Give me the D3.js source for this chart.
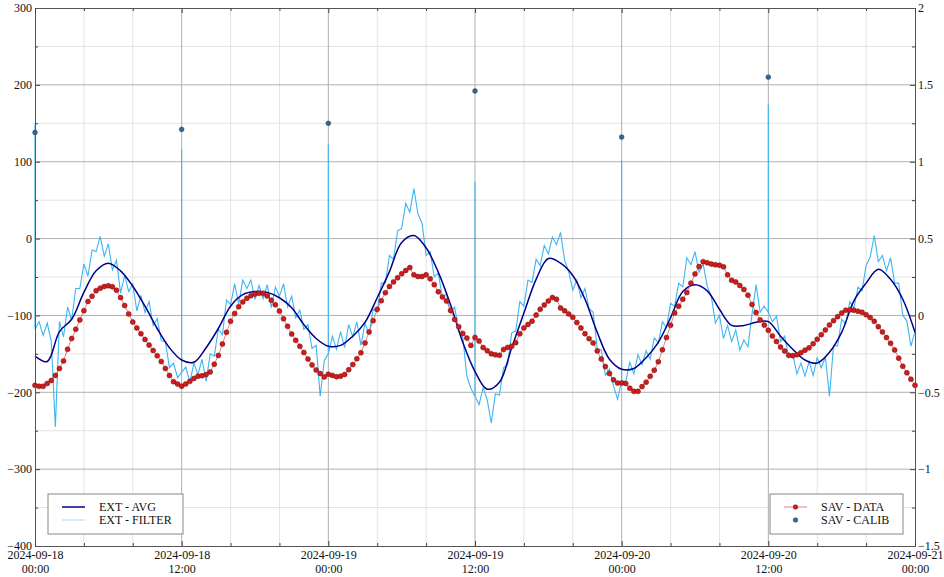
<!DOCTYPE html>
<html>
<head>
<meta charset="utf-8">
<script src="https://cdn.jsdelivr.net/npm/d3@7"></script>
<style>
  body { margin: 0; background: #fff; }
  text { font-family: "Liberation Serif", "DejaVu Serif", serif; }
</style>
</head>
<body>
<div id="chart"></div>
<script>
/* chart data */
const START = Date.UTC(2024, 8, 18, 0, 0);
const HOUR = 3600e3;
const STEP = 20 * 60e3;   // 20 min sampling for filter + sav data

// EXT - AVG, one value per hour
const extAvg = [
  -153, -160, -121, -105, -70, -42, -32, -42, -62, -88,
  -117, -142, -158, -161, -142, -117, -88, -73, -69, -70,
  -77, -90, -112, -130, -140, -139, -127, -109, -77, -43,
  -5, 4, -12, -44, -86, -135, -173, -196, -187, -142,
  -97, -53, -26, -32, -48, -79, -122, -157, -170, -169,
  -155, -135, -103, -69, -60, -68, -92, -113, -113, -109,
  -108, -127, -144, -158, -162, -148, -122, -81, -58, -40,
  -53, -79, -122
];

// EXT - FILTER, every 20 min
const extFilter = [
  -118, -108, -126, -110, -134, -245, -108, -128, -89, -106,
  -65, -65, -33, -49, -15, -17, 3, -23, -7, -41,
  -28, -71, -48, -69, -59, -94, -74, -96, -82, -113,
  -104, -133, -134, -168, -162, -181, -174, -167, -187, -162,
  -177, -157, -186, -150, -153, -118, -125, -80, -86, -59,
  -85, -54, -65, -54, -79, -61, -78, -60, -90, -63,
  -75, -59, -89, -75, -103, -93, -118, -112, -143, -139,
  -205, -159, -150, -127, -144, -121, -142, -112, -128, -108,
  -139, -110, -125, -92, -96, -58, -58, -22, -27, 10,
  13, 46, 34, 65, 32, 20, -22, -17, -50, -45,
  -77, -72, -97, -89, -120, -128, -179, -195, -205, -216,
  -194, -210, -240, -202, -204, -168, -164, -123, -120, -82,
  -88, -54, -57, -27, -35, -9, -20, 2, -8, 8,
  -28, -43, -67, -54, -77, -65, -91, -96, -143, -145,
  -178, -170, -192, -209, -185, -186, -161, -176, -151, -164,
  -146, -157, -129, -136, -108, -116, -84, -88, -58, -63,
  -25, -34, -17, -44, -33, -62, -75, -110, -100, -130,
  -113, -134, -119, -145, -132, -141, -98, -60, -96, -88,
  -96, -108, -101, -134, -127, -155, -150, -176, -162, -179,
  -160, -178, -155, -168, -154, -205, -139, -140, -105, -111,
  -82, -91, -63, -68, -35, -24, 4, -30, -22, -42,
  -25, -58, -58, -100, -107, -140, -121
];
// calibration spikes in the filter trace
const spikeHours = [0, 12, 24, 36, 48, 60];
const spikeValues = [150, 116, 122, 74, 102, 174];

// SAV - DATA (right axis), every 20 min
const savData = [
  -0.455, -0.461, -0.461, -0.443, -0.423, -0.390, -0.345, -0.296, -0.220, -0.150,
  -0.090, -0.029, 0.031, 0.091, 0.125, 0.161, 0.177, 0.188, 0.193, 0.186,
  0.164, 0.116, 0.064, 0.010, -0.043, -0.082, -0.119, -0.156, -0.193, -0.228,
  -0.262, -0.300, -0.345, -0.390, -0.431, -0.446, -0.460, -0.446, -0.429, -0.410,
  -0.395, -0.392, -0.385, -0.368, -0.318, -0.260, -0.186, -0.110, -0.038, 0.012,
  0.057, 0.088, 0.112, 0.128, 0.139, 0.145, 0.144, 0.127, 0.099, 0.070,
  0.028, -0.022, -0.071, -0.121, -0.162, -0.201, -0.241, -0.284, -0.322, -0.355,
  -0.378, -0.400, -0.383, -0.390, -0.399, -0.395, -0.384, -0.353, -0.320, -0.282,
  -0.243, -0.179, -0.107, -0.034, 0.040, 0.096, 0.148, 0.188, 0.218, 0.245,
  0.271, 0.292, 0.311, 0.264, 0.253, 0.253, 0.264, 0.238, 0.200, 0.154,
  0.120, 0.094, 0.032, -0.026, -0.073, -0.117, -0.147, -0.195, -0.143, -0.167,
  -0.209, -0.229, -0.250, -0.256, -0.259, -0.222, -0.208, -0.201, -0.177, -0.120,
  -0.081, -0.059, -0.038, 0.002, 0.041, 0.068, 0.094, 0.116, 0.105, 0.049,
  0.030, 0.010, -0.012, -0.046, -0.081, -0.119, -0.151, -0.179, -0.231, -0.284,
  -0.333, -0.378, -0.419, -0.440, -0.440, -0.443, -0.473, -0.494, -0.494, -0.463,
  -0.434, -0.396, -0.356, -0.302, -0.224, -0.144, -0.064, 0.016, 0.060, 0.105,
  0.149, 0.210, 0.270, 0.318, 0.350, 0.342, 0.334, 0.329, 0.327, 0.316,
  0.264, 0.229, 0.218, 0.195, 0.169, 0.132, 0.071, 0.019, -0.029, -0.063,
  -0.097, -0.134, -0.170, -0.206, -0.232, -0.259, -0.262, -0.255, -0.242, -0.226,
  -0.211, -0.184, -0.155, -0.125, -0.094, -0.062, -0.034, -0.008, 0.015, 0.034,
  0.036, 0.033, 0.027, 0.021, 0.005, -0.014, -0.038, -0.073, -0.107, -0.144,
  -0.181, -0.225, -0.278, -0.331, -0.373, -0.415, -0.455
];

// SAV - CALIB (right axis)
const calibHours = [0, 12, 24, 36, 48, 60];
const savCalib = [1.19, 1.21, 1.25, 1.46, 1.16, 1.55];

const xMajorHours = [0, 12, 24, 36, 48, 60, 72];
const leftTicks = [-400, -300, -200, -100, 0, 100, 200, 300];
const rightTicks = [-1.5, -1, -0.5, 0, 0.5, 1, 1.5, 2];

/* layout */
const width = 944, height = 577;
const margin = {top: 8, right: 29, bottom: 31, left: 35};
const innerW = width - margin.left - margin.right;
const innerH = height - margin.top - margin.bottom;

let svg = d3.select("#chart")
    .append("svg")
    .attr("width", width)
    .attr("height", height)
    .append("g")
    .attr("transform", `translate(${margin.left}, ${margin.top})`);

let x = d3.scaleUtc()
    .domain([new Date(START), new Date(START + 72 * HOUR)])
    .range([0, innerW]);
let yL = d3.scaleLinear().domain([-400, 300]).range([innerH, 0]);
let yR = d3.scaleLinear().domain([-1.5, 2]).range([innerH, 0]);

const hourDate = h => new Date(START + h * HOUR);
let minorHours = d3.range(0, 73, 4).filter(h => h % 12 !== 0);
let minorY = d3.range(-350, 300, 100);

// grid
let grid = svg.append("g");
grid.selectAll(".vminor").data(minorHours).enter().append("line")
    .attr("x1", d => x(hourDate(d))).attr("x2", d => x(hourDate(d)))
    .attr("y1", 0).attr("y2", innerH)
    .attr("stroke", "#e3e3e3").attr("stroke-width", 1);
grid.selectAll(".hminor").data(minorY).enter().append("line")
    .attr("x1", 0).attr("x2", innerW)
    .attr("y1", d => yL(d)).attr("y2", d => yL(d))
    .attr("stroke", "#e3e3e3").attr("stroke-width", 1);
grid.selectAll(".vmajor").data(xMajorHours.slice(1, -1)).enter().append("line")
    .attr("x1", d => x(hourDate(d))).attr("x2", d => x(hourDate(d)))
    .attr("y1", 0).attr("y2", innerH)
    .attr("stroke", "#b0b0b0").attr("stroke-width", 1);
grid.selectAll(".hmajor").data(leftTicks.slice(1, -1)).enter().append("line")
    .attr("x1", 0).attr("x2", innerW)
    .attr("y1", d => yL(d)).attr("y2", d => yL(d))
    .attr("stroke", "#b0b0b0").attr("stroke-width", 1);

// filter trace, with the calibration spikes drawn as vertical strokes
let filterPts = [];
extFilter.forEach(function(v, i) {
    let t = START + i * STEP;
    filterPts.push({t: t, v: v});
    let k = spikeHours.indexOf(i * STEP / HOUR);
    if (k >= 0) {
        filterPts.push({t: t, v: spikeValues[k]});
        filterPts.push({t: t, v: v});
    }
});

let lineL = d3.line()
    .x(d => x(new Date(d.t)))
    .y(d => yL(d.v));

svg.append("path")
    .datum(filterPts)
    .attr("fill", "none")
    .attr("stroke", "#3db5f2")
    .attr("stroke-width", 1.1)
    .attr("d", lineL);

svg.append("path")
    .datum(extAvg.map((v, i) => ({t: START + i * HOUR, v: v})))
    .attr("fill", "none")
    .attr("stroke", "#00008b")
    .attr("stroke-width", 1.5)
    .attr("d", lineL.curve(d3.curveCatmullRom));

// SAV data: thin line + dots on right axis
let savPts = savData.map((v, i) => ({t: START + i * STEP, v: v}));
svg.append("path")
    .datum(savPts)
    .attr("fill", "none")
    .attr("stroke", "#e06060")
    .attr("stroke-width", 0.8)
    .attr("d", d3.line().x(d => x(new Date(d.t))).y(d => yR(d.v)));
svg.append("g").selectAll("circle").data(savPts).enter().append("circle")
    .attr("cx", d => x(new Date(d.t)))
    .attr("cy", d => yR(d.v))
    .attr("r", 2.5)
    .attr("fill", "#d01c1c")
    .attr("stroke", "#6e1010")
    .attr("stroke-width", 0.5);

svg.append("g").selectAll("circle").data(calibHours).enter().append("circle")
    .attr("cx", d => x(hourDate(d)))
    .attr("cy", (d, i) => yR(savCalib[i]))
    .attr("r", 2.4)
    .attr("fill", "#2f6797")
    .attr("stroke", "#1c3f5e")
    .attr("stroke-width", 0.5);

// axes
function styleAxis(g) {
    g.select(".domain").attr("stroke", "#555");
    g.selectAll(".tick line").attr("stroke", "#444");
    g.selectAll(".tick text").attr("fill", "#111").style("font-size", "12px")
        .style("font-family", "'Liberation Serif', serif");
}

svg.append("g")
    .call(d3.axisLeft(yL).tickValues(leftTicks).tickSizeInner(-5).tickSizeOuter(0).tickPadding(3))
    .call(styleAxis);
svg.append("g")
    .call(d3.axisLeft(yL).tickValues(minorY).tickSizeInner(-3).tickSizeOuter(0).tickFormat(""))
    .call(styleAxis);
svg.append("g")
    .attr("transform", `translate(${innerW}, 0)`)
    .call(d3.axisRight(yR).tickValues(rightTicks).tickSizeInner(-5).tickSizeOuter(0).tickPadding(3)
        .tickFormat(d3.format("")))
    .call(styleAxis);
svg.append("g")
    .attr("transform", `translate(${innerW}, 0)`)
    .call(d3.axisRight(yR).tickValues(d3.range(-1.25, 2, 0.5)).tickSizeInner(-3).tickSizeOuter(0).tickFormat(""))
    .call(styleAxis);

let fmtDay = d3.utcFormat("%Y-%m-%d"), fmtTime = d3.utcFormat("%H:%M");
let bottom = svg.append("g")
    .attr("transform", `translate(0, ${innerH})`)
    .call(d3.axisBottom(x).tickValues(xMajorHours.map(hourDate)).tickSizeInner(-5).tickSizeOuter(0).tickPadding(4))
    .call(styleAxis);
bottom.selectAll(".tick text").each(function(d) {
    let t = d3.select(this).text(null);
    t.append("tspan").attr("x", 0).attr("dy", "0.71em").text(fmtDay(d));
    t.append("tspan").attr("x", 0).attr("dy", "1.22em").text(fmtTime(d));
});
svg.append("g")
    .attr("transform", `translate(0, ${innerH})`)
    .call(d3.axisBottom(x).tickValues(minorHours.map(hourDate)).tickSizeInner(-3).tickSizeOuter(0).tickFormat(""))
    .call(styleAxis);
svg.append("g")
    .call(d3.axisTop(x).tickValues(xMajorHours.map(hourDate)).tickSizeInner(-5).tickSizeOuter(0).tickFormat(""))
    .call(styleAxis);
svg.append("g")
    .call(d3.axisTop(x).tickValues(minorHours.map(hourDate)).tickSizeInner(-3).tickSizeOuter(0).tickFormat(""))
    .call(styleAxis);

// legends
function legend(x0, y0, w, entries) {
    let g = svg.append("g").attr("transform", `translate(${x0 - margin.left}, ${y0 - margin.top})`);
    g.append("rect").attr("width", w).attr("height", 40)
        .attr("fill", "#fff").attr("stroke", "#888").attr("stroke-width", 1);
    entries.forEach(function(e, i) {
        let yy = 13 + i * 13;
        if (e.line) {
            g.append("line").attr("x1", 14).attr("x2", 37).attr("y1", yy).attr("y2", yy)
                .attr("stroke", e.line).attr("stroke-width", e.width);
        }
        if (e.dot) {
            g.append("circle").attr("cx", 25.5).attr("cy", yy).attr("r", 2.3)
                .attr("fill", e.dot).attr("stroke", e.dotStroke).attr("stroke-width", 0.5);
        }
        g.append("text").attr("x", 51).attr("y", yy).attr("dy", "0.35em")
            .style("font-size", "12px").attr("fill", "#111").text(e.label);
    });
}
legend(48, 494, 135, [
    {label: "EXT - AVG", line: "#00008b", width: 1.5},
    {label: "EXT - FILTER", line: "#9fdcfa", width: 1}
]);
legend(770, 494, 133, [
    {label: "SAV - DATA", line: "#e06060", width: 0.8, dot: "#d01c1c", dotStroke: "#6e1010"},
    {label: "SAV - CALIB", dot: "#2f6797", dotStroke: "#1c3f5e"}
]);
</script>
</body>
</html>
